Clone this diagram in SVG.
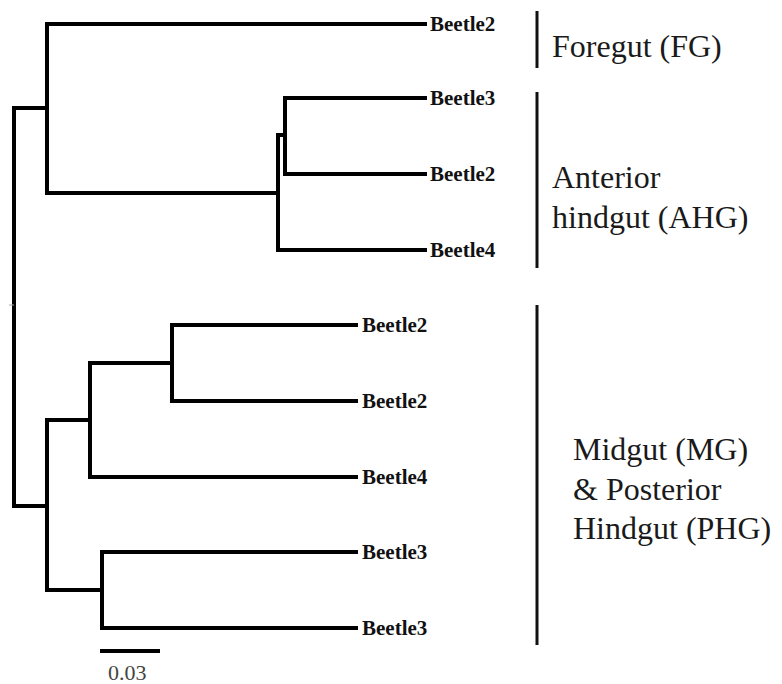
<svg xmlns="http://www.w3.org/2000/svg" width="782" height="684" viewBox="0 0 782 684">
<style>
.br{fill:none;stroke:#000;stroke-width:4;stroke-linejoin:miter;stroke-linecap:butt}
.lf{font-family:"Liberation Serif",serif;font-weight:bold;font-size:21px;fill:#111}
.grp{font-family:"Liberation Serif",serif;font-size:32px;fill:#1a1a1a}
.bar{stroke:#111;stroke-width:3}
.sc{font-family:"Liberation Serif",serif;font-size:22px;fill:#444}
</style>
<rect width="782" height="684" fill="#fff"/>
<g id="connectors">
<path class="br" d="M47,108 H14 V506 H47"/>
<path class="br" d="M427,24 H47 V193 H278"/>
<path class="br" d="M285,135 H278 V250 H427"/>
<path class="br" d="M427,98 H285 V174 H427"/>
<path class="br" d="M90,420 H47 V590 H102"/>
<path class="br" d="M172,363 H90 V477 H358"/>
<path class="br" d="M358,325 H172 V401 H358"/>
<path class="br" d="M358,552 H102 V628 H358"/>
<line x1="9" y1="305" x2="14" y2="305" stroke="#aaa" stroke-width="1"/>
</g>
<g id="leaf1"><text class="lf" x="430" y="31">Beetle2</text></g>
<g id="leaf2"><text class="lf" x="430" y="105">Beetle3</text></g>
<g id="leaf3"><text class="lf" x="430" y="181">Beetle2</text></g>
<g id="leaf4"><text class="lf" x="430" y="257">Beetle4</text></g>
<g id="leaf5"><text class="lf" x="362" y="332">Beetle2</text></g>
<g id="leaf6"><text class="lf" x="362" y="408">Beetle2</text></g>
<g id="leaf7"><text class="lf" x="362" y="484">Beetle4</text></g>
<g id="leaf8"><text class="lf" x="362" y="559">Beetle3</text></g>
<g id="leaf9"><text class="lf" x="362" y="635">Beetle3</text></g>
<g id="group-fg">
<line class="bar" x1="537" y1="11" x2="537" y2="68"/>
<text class="grp" x="552" y="57">Foregut (FG)</text>
</g>
<g id="group-ahg">
<line class="bar" x1="537" y1="92" x2="537" y2="268"/>
<text class="grp" x="552" y="188">Anterior</text>
<text class="grp" x="552" y="228">hindgut (AHG)</text>
</g>
<g id="group-mg">
<line class="bar" x1="537" y1="305" x2="537" y2="645"/>
<text class="grp" x="573" y="460">Midgut (MG)</text>
<text class="grp" x="573" y="500">&amp; Posterior</text>
<text class="grp" x="573" y="539">Hindgut (PHG)</text>
</g>
<g id="scale">
<line x1="100" y1="651" x2="160" y2="651" stroke="#000" stroke-width="4"/>
<text class="sc" x="108" y="680">0.03</text>
</g>
</svg>
